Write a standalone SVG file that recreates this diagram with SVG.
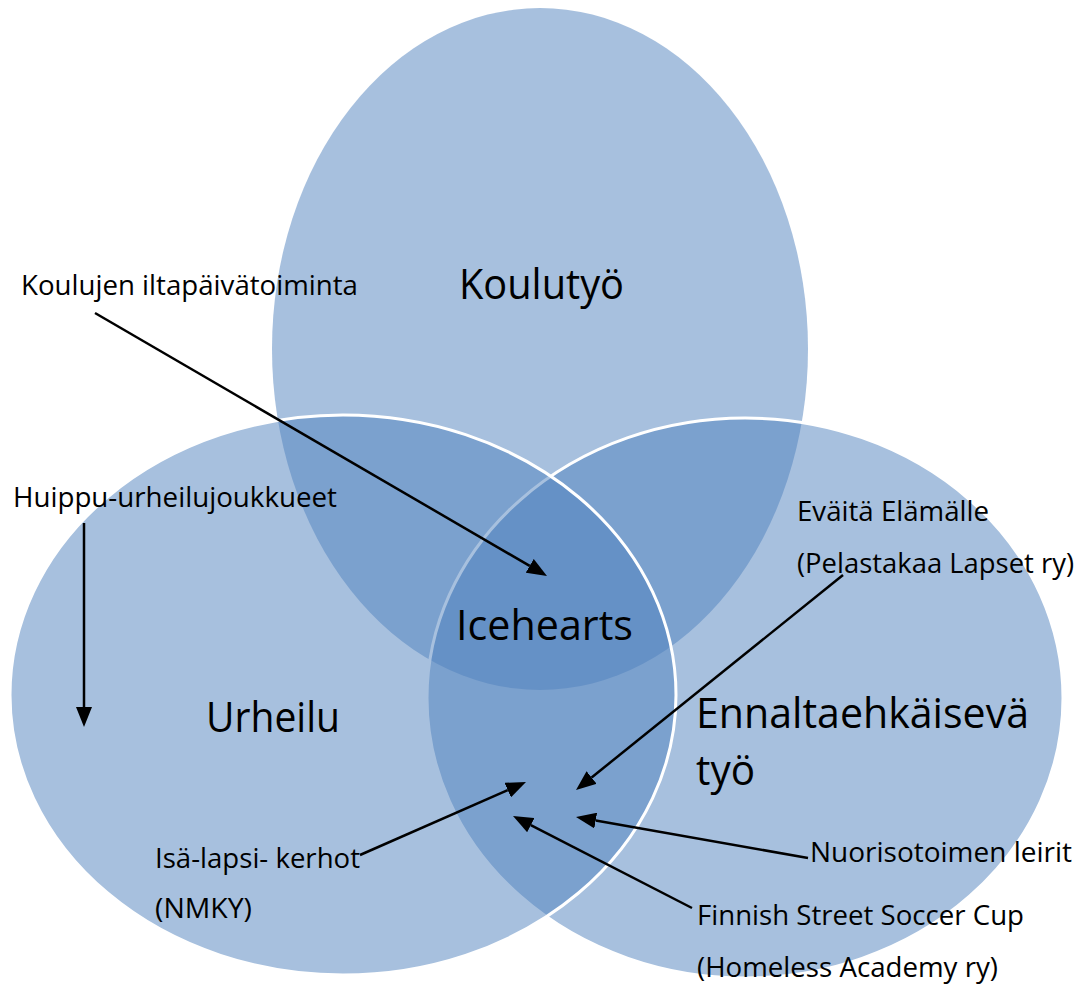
<svg xmlns="http://www.w3.org/2000/svg" width="1078" height="985" viewBox="0 0 1078 985">
<style>
.c{fill:#4F81BD;fill-opacity:0.5}
.o{stroke:#FFFFFF;stroke-width:3}
.big{font-family:"Open Sans","Liberation Sans",sans-serif;font-size:42px;fill:#000}
.sm{font-family:"Open Sans","Liberation Sans",sans-serif;font-size:28px;fill:#000}
.a{stroke:#000;stroke-width:2.5;fill:none;marker-end:url(#ah)}
</style>
<defs>
<marker id="ah" markerUnits="userSpaceOnUse" markerWidth="20" markerHeight="16" refX="0" refY="8" orient="auto">
<path d="M0,0 L20,8 L0,16 z" fill="#000"/>
</marker>
</defs>
<rect width="1078" height="985" fill="#FFFFFF"/>
<g id="koulutyo">
<ellipse class="c" cx="540" cy="349" rx="268" ry="341"/>
<text class="big" x="459" y="299" textLength="165" lengthAdjust="spacingAndGlyphs">Koulutyö</text>
</g>
<g id="ennaltaehkaiseva">
<ellipse class="c o" cx="745" cy="698" rx="318" ry="280"/>
</g>
<g id="urheilu">
<ellipse class="c o" cx="343" cy="695" rx="333" ry="280"/>
<text class="big" x="206" y="732" textLength="134" lengthAdjust="spacingAndGlyphs">Urheilu</text>
</g>
<g id="ennaltaehkaiseva-label">
<text class="big" x="696" y="728" textLength="333" lengthAdjust="spacingAndGlyphs">Ennaltaehkäisevä</text>
<text class="big" x="696" y="785" textLength="59" lengthAdjust="spacingAndGlyphs">työ</text>
</g>
<g id="icehearts">
<text class="big" x="456" y="640" textLength="177" lengthAdjust="spacingAndGlyphs">Icehearts</text>
</g>
<g id="koulujen">
<text class="sm" x="21" y="295" textLength="337" lengthAdjust="spacingAndGlyphs">Koulujen iltapäivätoiminta</text>
</g>
<g id="huippu">
<text class="sm" x="13" y="507" textLength="324" lengthAdjust="spacingAndGlyphs">Huippu-urheilujoukkueet</text>
</g>
<g id="evaita">
<text class="sm" x="797" y="521" textLength="192" lengthAdjust="spacingAndGlyphs">Eväitä Elämälle</text>
<text class="sm" x="797" y="573" textLength="277" lengthAdjust="spacingAndGlyphs">(Pelastakaa Lapset ry)</text>
</g>
<g id="isalapsi">
<text class="sm" x="155" y="868" textLength="205" lengthAdjust="spacingAndGlyphs">Isä-lapsi- kerhot</text>
<text class="sm" x="155" y="918" textLength="97" lengthAdjust="spacingAndGlyphs">(NMKY)</text>
</g>
<g id="nuoriso">
<text class="sm" x="810" y="862" textLength="262" lengthAdjust="spacingAndGlyphs">Nuorisotoimen leirit</text>
</g>
<g id="finnish">
<text class="sm" x="697" y="925" textLength="327" lengthAdjust="spacingAndGlyphs">Finnish Street Soccer Cup</text>
<text class="sm" x="697" y="977" textLength="301" lengthAdjust="spacingAndGlyphs">(Homeless Academy ry)</text>
</g>
<g id="connectors">
<line class="a" x1="95" y1="313" x2="529.7" y2="565.9"/>
<line class="a" x1="84" y1="523" x2="84" y2="707"/>
<line class="a" x1="843" y1="575" x2="591.6" y2="777.5"/>
<line class="a" x1="360" y1="855" x2="507.7" y2="790.1"/>
<line class="a" x1="808" y1="858" x2="595.7" y2="820.5"/>
<line class="a" x1="692" y1="908" x2="530.8" y2="825.1"/>
</g>
</svg>
